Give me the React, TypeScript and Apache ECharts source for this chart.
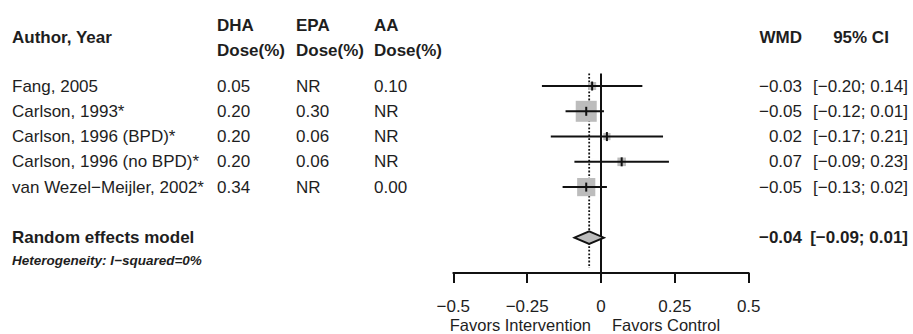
import { useEffect, useRef } from "react";
import * as echarts from "echarts";

// Study-level data
const studies = [
  "Fang, 2005",
  "Carlson, 1993*",
  "Carlson, 1996 (BPD)*",
  "Carlson, 1996 (no BPD)*",
  "van Wezel\u2212Meijler, 2002*",
];
const dhaDose = ["0.05", "0.20", "0.20", "0.20", "0.34"];
const epaDose = ["NR", "0.30", "0.06", "0.06", "NR"];
const aaDose = ["0.10", "NR", "NR", "NR", "0.00"];
const wmd = [-0.03, -0.05, 0.02, 0.07, -0.05];
const ciLow = [-0.2, -0.12, -0.17, -0.09, -0.13];
const ciHigh = [0.14, 0.01, 0.21, 0.23, 0.02];
const weights = [6.7, 45.9, 5.4, 7.6, 34.4];

// Pooled estimate
const pooledLabel = "Random effects model";
const pooledWmd = -0.04;
const pooledLow = -0.09;
const pooledHigh = 0.01;
const heterogeneityText = "Heterogeneity: I\u2212squared=0%";

// Axis
const xTicks = [-0.5, -0.25, 0, 0.25, 0.5];
const xLabelLeft = "Favors Intervention";
const xLabelRight = "Favors Control";

const FONT = "'Liberation Sans', Arial, Helvetica, sans-serif";
const FS = 17;
const TEXT = "#1e1e1e";
const INK = "#111111";
const GREY = "#bcbcbc";
const POOLED_ROW = 6;
const HET_ROW = 6.9;
const Y_MIN = -0.5;
const Y_MAX = 7.4;

const fmt = (v: number) => v.toFixed(2).replace("-", "\u2212");
const fmtTick = (v: number) => (v === 0 ? "0" : String(v).replace("-", "\u2212"));
const fmtCI = (lo: number, hi: number) => `[${fmt(lo)}; ${fmt(hi)}]`;

const COL_AUTHOR = 12;
const COL_DHA = 217;
const COL_EPA = 296;
const COL_AA = 374;
const COL_WMD_RIGHT = 802;
const COL_CI_RIGHT = 908;

function txt(
  text: string,
  x: number,
  y: number,
  opts: { align?: string; bold?: boolean; italic?: boolean; size?: number } = {}
) {
  return {
    type: "text",
    style: {
      text,
      x,
      y,
      align: opts.align ?? "left",
      verticalAlign: "middle",
      fontFamily: FONT,
      fontSize: opts.size ?? FS,
      fontWeight: opts.bold ? "bold" : "normal",
      fontStyle: opts.italic ? "italic" : "normal",
      fill: TEXT,
    },
  };
}

export default function App() {
  const ref = useRef<HTMLDivElement>(null);

  useEffect(() => {
    if (!ref.current) return;
    const chart = echarts.init(ref.current, undefined, { renderer: "svg" });

    const studyData = studies.map((_, i) => [wmd[i], i, ciLow[i], ciHigh[i], weights[i]]);
    const tableData = studies.map((_, i) => [0, i]);

    chart.setOption({
      animation: false,
      backgroundColor: "#ffffff",
      grid: { left: 453.3, right: 164.3, top: 73.4, bottom: 61 },
      xAxis: {
        type: "value",
        min: xTicks[0],
        max: xTicks[xTicks.length - 1],
        interval: 0.25,
        splitLine: { show: false },
        axisLine: { show: true, onZero: false, lineStyle: { color: INK, width: 2 } },
        axisTick: { show: true, length: 10, lineStyle: { color: INK, width: 2 } },
        axisLabel: {
          margin: 25,
          color: TEXT,
          fontFamily: FONT,
          fontSize: FS,
          formatter: (v: number) => fmtTick(v),
        },
      },
      yAxis: {
        type: "value",
        show: false,
        inverse: true,
        min: Y_MIN,
        max: Y_MAX,
      },
      graphic: [
        txt("Author, Year", COL_AUTHOR, 37.5, { bold: true }),
        txt("DHA", COL_DHA, 25, { bold: true }),
        txt("Dose(%)", COL_DHA, 50.5, { bold: true }),
        txt("EPA", COL_EPA, 25, { bold: true }),
        txt("Dose(%)", COL_EPA, 50.5, { bold: true }),
        txt("AA", COL_AA, 25, { bold: true }),
        txt("Dose(%)", COL_AA, 50.5, { bold: true }),
        txt("WMD", COL_WMD_RIGHT, 37.5, { bold: true, align: "right" }),
        txt("95% CI", 861, 37.5, { bold: true, align: "center" }),
        txt(xLabelLeft, 591, 325, { align: "right", size: 16.5 }),
        txt(xLabelRight, 612, 325, { align: "left", size: 16.5 }),
      ],
      series: [
        // line of no effect
        {
          type: "line",
          data: [
            [0, Y_MIN],
            [0, Y_MAX],
          ],
          showSymbol: false,
          silent: true,
          lineStyle: { color: INK, width: 2 },
          z: 2,
        },
        // pooled estimate reference line
        {
          type: "line",
          data: [
            [pooledWmd, Y_MIN],
            [pooledWmd, 7.2],
          ],
          showSymbol: false,
          silent: true,
          lineStyle: { color: INK, width: 1.8, type: [1.8, 1.8] },
          z: 2,
        },
        // study squares, whiskers and point markers
        {
          type: "custom",
          clip: false,
          silent: true,
          z: 3,
          encode: { x: [0, 2, 3], y: 1 },
          data: studyData,
          renderItem: (_params: any, api: any) => {
            const est = api.coord([api.value(0), api.value(1)]);
            const lo = api.coord([api.value(2), api.value(1)]);
            const hi = api.coord([api.value(3), api.value(1)]);
            const side = 3.1 * Math.sqrt(api.value(4));
            return {
              type: "group",
              children: [
                {
                  type: "rect",
                  shape: { x: est[0] - side / 2, y: est[1] - side / 2, width: side, height: side },
                  style: { fill: GREY },
                },
                {
                  type: "line",
                  shape: { x1: lo[0], y1: lo[1], x2: hi[0], y2: hi[1] },
                  style: { stroke: INK, lineWidth: 2 },
                },
                {
                  type: "rect",
                  shape: { x: est[0] - 1, y: est[1] - 4.5, width: 2, height: 9 },
                  style: { fill: INK },
                },
              ],
            };
          },
        },
        // pooled diamond
        {
          type: "custom",
          clip: false,
          silent: true,
          z: 4,
          encode: { x: [0, 2, 3], y: 1 },
          data: [[pooledWmd, POOLED_ROW, pooledLow, pooledHigh]],
          renderItem: (_params: any, api: any) => {
            const est = api.coord([api.value(0), api.value(1)]);
            const lo = api.coord([api.value(2), api.value(1)]);
            const hi = api.coord([api.value(3), api.value(1)]);
            const h = 6.3;
            return {
              type: "polygon",
              shape: {
                points: [
                  [lo[0], lo[1]],
                  [est[0], est[1] - h],
                  [hi[0], hi[1]],
                  [est[0], est[1] + h],
                ],
              },
              style: { fill: GREY, stroke: INK, lineWidth: 1.8 },
            };
          },
        },
        // study table text
        {
          type: "custom",
          clip: false,
          silent: true,
          z: 5,
          encode: { x: 0, y: 1 },
          data: tableData,
          renderItem: (params: any, api: any) => {
            const i = params.dataIndex;
            const y = api.coord([0, api.value(1)])[1];
            return {
              type: "group",
              children: [
                txt(studies[i], COL_AUTHOR, y),
                txt(dhaDose[i], COL_DHA, y),
                txt(epaDose[i], COL_EPA, y),
                txt(aaDose[i], COL_AA, y),
                txt(fmt(wmd[i]), COL_WMD_RIGHT, y, { align: "right" }),
                txt(fmtCI(ciLow[i], ciHigh[i]), COL_CI_RIGHT, y, { align: "right" }),
              ],
            };
          },
        },
        // pooled row text
        {
          type: "custom",
          clip: false,
          silent: true,
          z: 5,
          encode: { x: 0, y: 1 },
          data: [[0, POOLED_ROW, HET_ROW]],
          renderItem: (_params: any, api: any) => {
            const y = api.coord([0, api.value(1)])[1];
            const yh = api.coord([0, api.value(2)])[1];
            return {
              type: "group",
              children: [
                txt(pooledLabel, COL_AUTHOR, y, { bold: true }),
                txt(fmt(pooledWmd), COL_WMD_RIGHT, y, { bold: true, align: "right" }),
                txt(fmtCI(pooledLow, pooledHigh), COL_CI_RIGHT, y, { bold: true, align: "right" }),
                txt(heterogeneityText, COL_AUTHOR, yh, { bold: true, italic: true, size: 13.5 }),
              ],
            };
          },
        },
      ],
    });

    return () => chart.dispose();
  }, []);

  return (
    <div
      ref={ref}
      style={{ position: "fixed", left: 0, top: 0, width: 913, height: 334, background: "#fff" }}
    />
  );
}
